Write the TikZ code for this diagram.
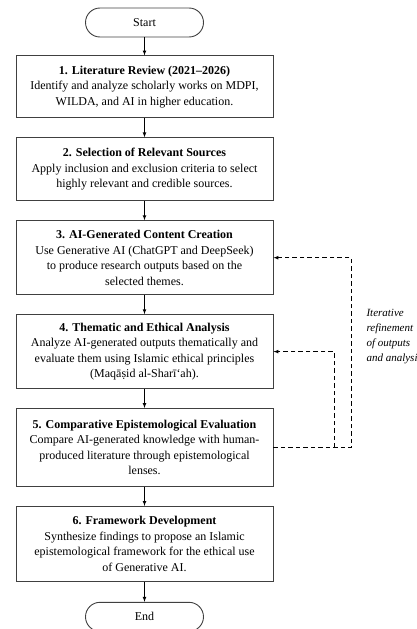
\documentclass[tikz,border=0pt]{standalone}
\usepackage{fontspec}
\setmainfont{Liberation Serif}
\usetikzlibrary{positioning}

\begin{document}
\begin{tikzpicture}[
        x=1pt, y=1pt,
        node distance=19pt, % Gap between the steps
        every node/.style = {font=\fontsize{12}{15.5}\selectfont},
        terminal/.style = {draw=black!75, line width=0.9pt, rounded corners=14.5pt, minimum width=118pt, minimum height=29pt, align=center}, % Start / End
        stage/.style = {draw=black!75, line width=0.9pt, minimum width=257pt, inner ysep=4pt, align=center}, % Numbered steps
        flow/.style = {draw, line width=0.7pt, -latex},
        loop/.style = {draw, dash pattern=on 4.5pt off 3pt, line width=0.7pt, -latex},
        note/.style = {font=\fontsize{11}{15}\selectfont\itshape, align=left, anchor=north west},
    ]
    \useasboundingbox (0,0) rectangle (416,-629);

    \node[terminal] (start) at (144.5,-22.5) {Start};
    \node[stage, minimum height=62pt, below=18pt of start] (s1) {\textbf{1. Literature Review (2021–2026)}\\
        Identify and analyze scholarly works on MDPI,\\ WILDA, and AI in higher education.};
    \node[stage, minimum height=63pt, below=of s1] (s2) {\textbf{2. Selection of Relevant Sources}\\
        Apply inclusion and exclusion criteria to select\\ highly relevant and credible sources.};
    \node[stage, minimum height=74pt, below=of s2] (s3) {\textbf{3. AI-Generated Content Creation}\\
        Use Generative AI (ChatGPT and DeepSeek)\\ to produce research outputs based on the\\ selected themes.};
    \node[stage, minimum height=74pt, below=of s3] (s4) {\textbf{4. Thematic and Ethical Analysis}\\
        Analyze AI-generated outputs thematically and\\ evaluate them using Islamic ethical principles\\ (Maqāṣid al-Sharī‘ah).};
    \node[stage, minimum height=78pt, below=of s4] (s5) {\textbf{5. Comparative Epistemological Evaluation}\\
        Compare AI-generated knowledge with human-\\ produced literature through epistemological\\ lenses.};
    \node[stage, minimum height=75pt, below=of s5] (s6) {\textbf{6. Framework Development}\\
        Synthesize findings to propose an Islamic\\ epistemological framework for the ethical use\\ of Generative AI.};
    \node[terminal, below=20pt of s6] (end) {End};

    % main flow
    \draw[flow] (start) -- (s1);
    \draw[flow] (s1) -- (s2);
    \draw[flow] (s2) -- (s3);
    \draw[flow] (s3) -- (s4);
    \draw[flow] (s4) -- (s5);
    \draw[flow] (s5) -- (s6);
    \draw[flow] (s6) -- (end);

    % feedback loop
    \coordinate[right=61pt of s5.east] (inner);
    \coordinate[right=78pt of s5.east] (outer);
    \draw[loop] (s5.east) -- (outer) |- (s3.east);
    \draw[loop] (inner) |- (s4.east);
    \node[note] (iter) at (363,-306) {Iterative\\ refinement\\ of outputs\\ and analysis};
\end{tikzpicture}
\end{document}
